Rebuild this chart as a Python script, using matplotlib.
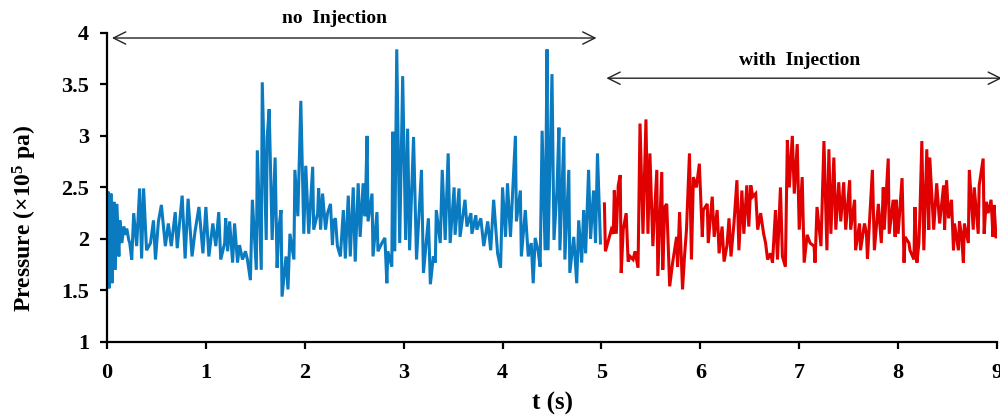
import matplotlib
matplotlib.use("Agg")
import matplotlib.pyplot as plt

# время (с) и давление (x10^5 Па) без впрыска
t_blue = [0.00, 0.01, 0.02, 0.04, 0.05, 0.07, 0.08, 0.10, 0.12, 0.13, 0.15, 0.17, 0.18, 0.20, 0.22, 0.23,
          0.25, 0.27, 0.30, 0.33, 0.35, 0.37, 0.40, 0.44, 0.47, 0.49, 0.52, 0.55, 0.59, 0.62, 0.65, 0.69,
          0.71, 0.76, 0.79, 0.82, 0.86, 0.89, 0.93, 0.97, 1.00, 1.03, 1.07, 1.10, 1.13, 1.15, 1.19, 1.20,
          1.22, 1.24, 1.27, 1.29, 1.32, 1.34, 1.37, 1.40, 1.42, 1.45, 1.47, 1.51, 1.52, 1.56, 1.57, 1.61,
          1.62, 1.64, 1.67, 1.70, 1.72, 1.74, 1.76, 1.77, 1.81, 1.83, 1.85, 1.89, 1.90, 1.93, 1.96, 1.99,
          2.01, 2.04, 2.08, 2.09, 2.13, 2.14, 2.16, 2.18, 2.21, 2.23, 2.26, 2.28, 2.29, 2.31, 2.33, 2.36,
          2.39, 2.41, 2.44, 2.46, 2.49, 2.51, 2.54, 2.56, 2.59, 2.61, 2.63, 2.64, 2.68, 2.69, 2.73, 2.74,
          2.78, 2.81, 2.83, 2.84, 2.88, 2.89, 2.91, 2.93, 2.96, 2.99, 3.02, 3.04, 3.06, 3.10, 3.13, 3.18,
          3.20, 3.25, 3.27, 3.30, 3.32, 3.33, 3.37, 3.39, 3.42, 3.45, 3.47, 3.51, 3.52, 3.56, 3.57, 3.62,
          3.64, 3.68, 3.69, 3.73, 3.74, 3.78, 3.81, 3.85, 3.88, 3.91, 3.95, 3.98, 4.00, 4.03, 4.05, 4.08,
          4.10, 4.13, 4.14, 4.18, 4.19, 4.23, 4.26, 4.29, 4.31, 4.33, 4.36, 4.38, 4.40, 4.43, 4.45, 4.46,
          4.48, 4.50, 4.52, 4.55, 4.57, 4.58, 4.62, 4.63, 4.67, 4.68, 4.72, 4.75, 4.77, 4.80, 4.82, 4.84,
          4.87, 4.89, 4.92, 4.94, 4.96, 4.97, 4.99]
p_blue = [2.00, 2.46, 1.52, 2.44, 1.57, 2.36, 1.70, 2.34, 1.83, 2.18, 1.96, 2.12, 2.04, 2.10, 1.99, 1.96,
          1.80, 2.25, 1.93, 2.49, 1.81, 2.49, 1.89, 1.96, 2.18, 1.80, 2.17, 2.33, 1.93, 2.15, 1.93, 2.26,
          1.91, 2.42, 1.81, 2.39, 1.83, 2.07, 2.31, 1.86, 2.31, 1.83, 2.15, 1.93, 2.26, 1.80, 1.96, 2.20,
          1.88, 2.17, 1.77, 2.15, 1.77, 1.94, 1.80, 1.88, 1.80, 1.60, 2.38, 1.70, 2.86, 1.70, 3.52, 1.99,
          2.99, 3.26, 1.99, 2.79, 1.72, 2.12, 2.28, 1.44, 1.83, 1.51, 2.05, 1.80, 2.67, 2.22, 3.34, 2.05,
          2.71, 2.05, 2.70, 2.09, 2.25, 2.49, 2.09, 2.44, 2.09, 2.25, 2.34, 1.94, 2.17, 2.20, 1.93, 1.83,
          2.28, 1.81, 2.42, 1.83, 2.50, 1.78, 2.54, 2.02, 2.54, 2.22, 3.00, 2.17, 2.44, 1.83, 2.26, 1.88,
          1.96, 2.01, 1.57, 1.88, 1.73, 3.04, 1.88, 3.84, 1.96, 3.58, 1.99, 3.07, 1.89, 2.99, 1.80, 2.67,
          1.67, 2.20, 1.56, 1.83, 1.77, 2.28, 1.96, 2.67, 1.99, 2.83, 1.96, 2.50, 2.04, 2.49, 2.02, 2.38,
          2.12, 2.25, 2.05, 2.23, 2.09, 2.20, 1.93, 2.17, 1.89, 2.38, 1.86, 1.72, 2.50, 2.02, 2.54, 2.02,
          2.41, 3.00, 2.17, 2.47, 1.83, 2.28, 1.83, 1.96, 1.57, 2.01, 1.88, 1.73, 3.05, 1.89, 3.84, 1.89,
          2.73, 3.60, 1.99, 2.47, 3.08, 1.89, 2.99, 1.80, 2.67, 1.67, 2.02, 1.57, 2.18, 1.77, 2.28, 1.86,
          2.67, 2.00, 2.47, 1.96, 2.83, 2.54, 1.96]

# с впрыском
t_red = [5.03, 5.04, 5.10, 5.12, 5.13, 5.15, 5.17, 5.19, 5.20, 5.22, 5.25, 5.27, 5.29, 5.32, 5.34, 5.37,
         5.39, 5.42, 5.45, 5.47, 5.49, 5.52, 5.56, 5.57, 5.61, 5.62, 5.64, 5.66, 5.69, 5.72, 5.76, 5.77,
         5.79, 5.82, 5.84, 5.86, 5.89, 5.91, 5.93, 5.96, 5.99, 6.02, 6.03, 6.07, 6.08, 6.12, 6.14, 6.17,
         6.19, 6.22, 6.24, 6.27, 6.29, 6.31, 6.34, 6.37, 6.39, 6.42, 6.44, 6.47, 6.49, 6.51, 6.53, 6.56,
         6.58, 6.61, 6.64, 6.66, 6.68, 6.71, 6.73, 6.76, 6.78, 6.81, 6.83, 6.86, 6.88, 6.90, 6.93, 6.95,
         6.98, 7.00, 7.03, 7.05, 7.08, 7.11, 7.15, 7.16, 7.18, 7.22, 7.25, 7.28, 7.30, 7.32, 7.35, 7.37,
         7.40, 7.42, 7.45, 7.47, 7.51, 7.52, 7.56, 7.57, 7.61, 7.62, 7.66, 7.68, 7.69, 7.71, 7.74, 7.76,
         7.80, 7.83, 7.85, 7.86, 7.90, 7.91, 7.95, 7.97, 7.98, 8.00, 8.04, 8.06, 8.07, 8.11, 8.12, 8.16,
         8.17, 8.19, 8.21, 8.22, 8.24, 8.26, 8.29, 8.31, 8.32, 8.36, 8.39, 8.42, 8.46, 8.47, 8.49, 8.51,
         8.54, 8.56, 8.57, 8.61, 8.62, 8.64, 8.66, 8.67, 8.71, 8.72, 8.76, 8.77, 8.81, 8.82, 8.86, 8.87,
         8.89, 8.91, 8.94, 8.96, 8.97, 8.99]
p_red = [2.34, 1.88, 2.09, 2.05, 2.47, 2.05, 2.52, 2.62, 1.67, 2.09, 2.25, 1.78, 1.83, 1.80, 1.88, 1.72,
         3.12, 2.05, 3.16, 2.05, 2.83, 1.93, 2.67, 1.64, 2.65, 1.70, 2.31, 2.34, 1.54, 1.77, 2.02, 1.73,
         2.26, 1.51, 1.83, 2.09, 2.83, 1.80, 2.60, 2.50, 2.73, 2.02, 2.28, 2.34, 1.96, 2.41, 2.02, 2.28,
         1.86, 2.12, 1.78, 1.94, 2.20, 1.83, 2.15, 2.57, 1.89, 2.47, 2.05, 2.52, 2.12, 2.52, 2.41, 2.44,
         2.09, 2.25, 2.05, 1.96, 1.80, 1.86, 1.77, 2.28, 1.80, 2.50, 1.83, 1.73, 2.96, 2.50, 3.00, 2.44,
         2.92, 2.09, 2.60, 1.77, 2.04, 1.96, 1.93, 1.77, 2.31, 1.93, 2.95, 1.89, 2.87, 2.05, 2.79, 2.09,
         2.55, 2.17, 2.55, 2.09, 2.57, 2.09, 2.38, 1.89, 2.15, 1.89, 2.15, 2.05, 1.81, 2.15, 2.67, 1.89,
         2.34, 1.96, 2.50, 2.09, 2.78, 2.05, 2.38, 2.02, 2.38, 2.05, 2.59, 1.77, 2.02, 1.96, 1.89, 1.80,
         2.31, 1.77, 1.96, 2.23, 2.95, 1.89, 2.87, 2.09, 2.79, 2.09, 2.54, 2.15, 2.52, 2.09, 2.57, 2.20,
         2.38, 1.89, 2.15, 1.89, 2.17, 2.05, 1.77, 2.15, 1.96, 2.67, 2.09, 2.50, 2.05, 2.52, 2.78, 2.05,
         2.36, 2.25, 2.38, 2.02, 2.33, 2.02]

x_ticks = list(range(0, 10))
y_ticks = [1, 1.5, 2, 2.5, 3, 3.5, 4]
y_labels = ["1", "1.5", "2", "2.5", "3", "3.5", "4"]

plt.rcParams['font.family'] = ['Liberation Serif', 'DejaVu Serif']
plt.rcParams['font.weight'] = 'bold'
plt.rcParams['mathtext.fontset'] = 'custom'
plt.rcParams['mathtext.rm'] = 'Liberation Serif:bold'
plt.rcParams['mathtext.it'] = 'Liberation Serif:bold'

fig = plt.figure(figsize=(10, 4.16), dpi=100)
ax = fig.add_axes([0.107, 0.178, 0.890, 0.743])

ax.plot(t_blue, p_blue, color='#0A7BC0', lw=2.2, solid_joinstyle='miter')
ax.plot(t_red, p_red, color='#E00000', lw=2.2, solid_joinstyle='miter')

ax.set_xlim(0, 9)
ax.set_ylim(1, 4)
ax.set_xticks(x_ticks)
ax.set_yticks(y_ticks)
ax.set_yticklabels(y_labels)

for s in ['top', 'right']:
    ax.spines[s].set_visible(False)
for s in ['left', 'bottom']:
    ax.spines[s].set_linewidth(1.6)
ax.tick_params(direction='out', length=5, width=1.6, labelsize=16)
ax.tick_params(axis='x', pad=10)
ax.tick_params(axis='y', pad=8)

ax.set_xlabel('t (s)', fontsize=18, fontweight='bold')
ax.xaxis.set_label_coords(0.5, -0.163)
ax.set_ylabel(r'Pressure (×10$^5$ pa)', fontsize=17, fontweight='bold')
ax.yaxis.set_label_coords(-0.076, 0.40)

# стрелки с подписями
arrow = dict(arrowstyle='<->', color='#222222', lw=1.0, mutation_scale=22, shrinkA=0, shrinkB=0)
ax.annotate('', xy=(0.05, 3.95), xytext=(4.95, 3.95), arrowprops=arrow, annotation_clip=False)
ax.annotate('', xy=(5.05, 3.56), xytext=(9.05, 3.56), arrowprops=arrow, annotation_clip=False)
ax.text(2.3, 4.14, 'no  Injection', ha='center', va='center', fontsize=14, fontweight='bold', clip_on=False)
ax.text(7.0, 3.73, 'with  Injection', ha='center', va='center', fontsize=14, fontweight='bold')

fig.savefig('out.png', dpi=100)
